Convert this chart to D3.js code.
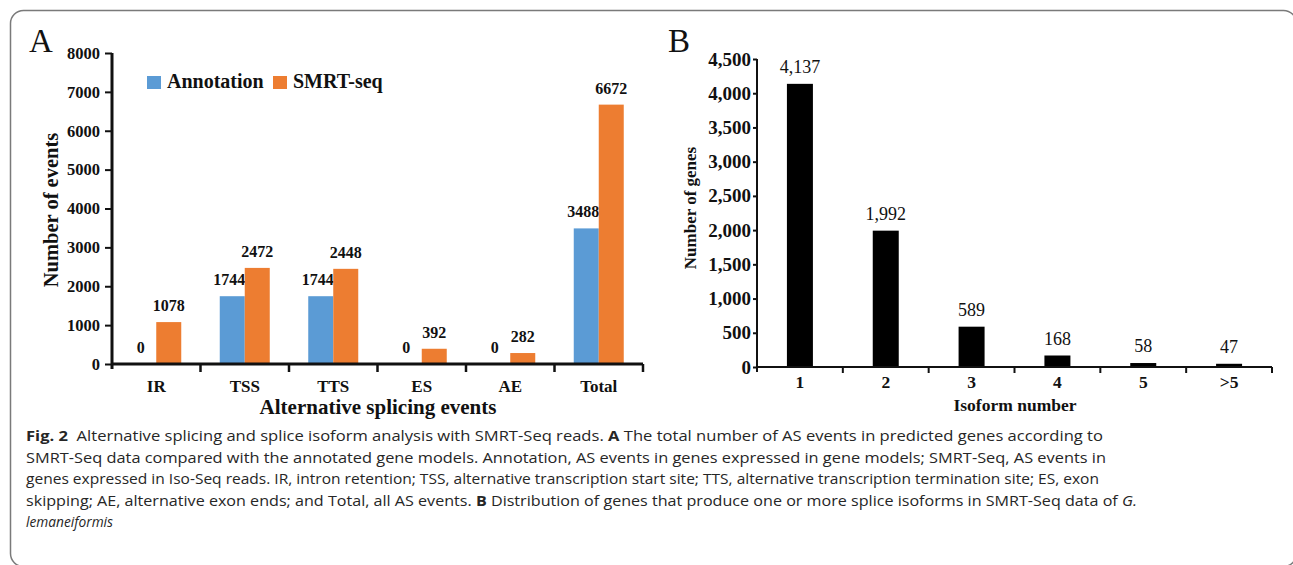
<!DOCTYPE html>
<html>
<head>
<meta charset="utf-8">
<script src="https://cdn.jsdelivr.net/npm/d3@7/dist/d3.min.js"></script>
<style>
  html, body { margin: 0; padding: 0; background: #fff; }
  svg { display: block; }
  .serif { font-family: "Liberation Serif", "Times New Roman", serif; fill: #111; }
  .cap { font-family: "Open Sans", "Noto Sans", sans-serif; fill: #262626; }
</style>
</head>
<body>
<svg id="fig" width="1293" height="565"></svg>
<script>
// Panel A: alternative splicing events
const asCategories = ["IR", "TSS", "TTS", "ES", "AE", "Total"];
const annotationCounts = [0, 1744, 1744, 0, 0, 3488];
const smrtCounts = [1078, 2472, 2448, 392, 282, 6672];
const asTicks = [0, 1000, 2000, 3000, 4000, 5000, 6000, 7000, 8000];
const seriesNames = ["Annotation", "SMRT-seq"];
const seriesColors = ["#5B9BD5", "#ED7D31"];

// Panel B: isoform number distribution
const isoformCategories = ["1", "2", "3", "4", "5", ">5"];
const geneCounts = [4137, 1992, 589, 168, 58, 47];
const geneTicks = [0, 500, 1000, 1500, 2000, 2500, 3000, 3500, 4000, 4500];

// Caption lines (segments: [text, style])
const captionLines = [
  [["Fig. 2", "b"], ["  Alternative splicing and splice isoform analysis with SMRT-Seq reads. ", ""], ["A", "b"], [" The total number of AS events in predicted genes according to", ""]],
  [["SMRT-Seq data compared with the annotated gene models. Annotation, AS events in genes expressed in gene models; SMRT-Seq, AS events in", ""]],
  [["genes expressed in Iso-Seq reads. IR, intron retention; TSS, alternative transcription start site; TTS, alternative transcription termination site; ES, exon", ""]],
  [["skipping; AE, alternative exon ends; and Total, all AS events. ", ""], ["B", "b"], [" Distribution of genes that produce one or more splice isoforms in SMRT-Seq data of ", ""], ["G.", "i"]],
  [["lemaneiformis", "i"]]
];
const captionWidths = [1077, 1080, 1073, 1111, 87];

const svg = d3.select("#fig");

// Outer frame
svg.append("rect")
  .attr("x", 10.5).attr("y", 10.5)
  .attr("width", 1286).attr("height", 556)
  .attr("rx", 13).attr("ry", 13)
  .attr("fill", "none").attr("stroke", "#7a7a7a").attr("stroke-width", 1.5);

// ---------------- Panel A ----------------
const gA = svg.append("g");
const xA = d3.scaleBand().domain(asCategories).range([112, 643]);
const yA = d3.scaleLinear().domain([0, 8000]).range([364, 53]);
const barWA = 25;

gA.append("text").attr("class", "serif")
  .attr("x", 29).attr("y", 52)
  .style("font-size", "33px").text("A");

// bars and value labels
const seriesA = [annotationCounts, smrtCounts];
seriesA.forEach((vals, si) => {
  gA.selectAll(null).data(asCategories).enter().append("rect")
    .attr("x", (c) => xA(c) + xA.bandwidth() / 2 - barWA + si * barWA)
    .attr("y", (c, i) => yA(vals[i]))
    .attr("width", barWA)
    .attr("height", (c, i) => yA(0) - yA(vals[i]))
    .attr("fill", seriesColors[si]);
  gA.selectAll(null).data(asCategories).enter().append("text")
    .attr("class", "serif")
    .attr("x", (c) => xA(c) + xA.bandwidth() / 2 - barWA / 2 + si * barWA - (si === 0 ? 3 : 0))
    .attr("y", (c, i) => yA(vals[i]) - 11)
    .attr("text-anchor", "middle")
    .style("font-size", "16px").style("font-weight", "bold")
    .text((c, i) => vals[i]);
});

// y axis
const yAxisA = gA.append("g").attr("transform", "translate(112,0)")
  .call(d3.axisLeft(yA).tickValues(asTicks).tickSize(7).tickPadding(5).tickFormat(d3.format("d")));
yAxisA.select(".domain").attr("d", `M0,${yA(8000)}V${yA(0) + 5}`).attr("stroke", "#111").attr("stroke-width", 3);
yAxisA.selectAll(".tick line").attr("stroke", "#111").attr("stroke-width", 2);
yAxisA.selectAll(".tick text").attr("fill", "#111")
  .style("font-size", "16.5px").style("font-weight", "bold").style("font-family", "Liberation Serif, serif");

// x axis
const xAxisA = gA.append("g").attr("transform", `translate(0,${yA(0)})`)
  .call(d3.axisBottom(xA).tickSize(0).tickPadding(16));
xAxisA.select(".domain").attr("d", `M112,0H${xA.range()[1]}`).attr("stroke", "#111").attr("stroke-width", 3);
xAxisA.selectAll(".tick text").attr("fill", "#111")
  .style("font-size", "17px").style("font-weight", "bold").style("font-family", "Liberation Serif, serif");
const boundsA = asCategories.slice(1).map((c) => xA(c)).concat([xA.range()[1]]);
xAxisA.selectAll(".bnd").data(boundsA).enter().append("line")
  .attr("x1", (d) => d).attr("x2", (d) => d).attr("y1", 0).attr("y2", 8)
  .attr("stroke", "#111").attr("stroke-width", 2.5);

// axis titles
gA.append("text").attr("class", "serif")
  .attr("x", 378).attr("y", 414).attr("text-anchor", "middle")
  .style("font-size", "21px").style("font-weight", "bold")
  .text("Alternative splicing events");
gA.append("text").attr("class", "serif")
  .attr("transform", "translate(58,210) rotate(-90)").attr("text-anchor", "middle")
  .style("font-size", "20.5px").style("font-weight", "bold")
  .text("Number of events");

// legend
const legendX = [147, 273];
seriesNames.forEach((name, i) => {
  gA.append("rect").attr("x", legendX[i]).attr("y", 76)
    .attr("width", 14).attr("height", 13).attr("fill", seriesColors[i]);
  gA.append("text").attr("class", "serif")
    .attr("x", legendX[i] + 20).attr("y", 88)
    .style("font-size", "20px").style("font-weight", "bold").text(name);
});

// ---------------- Panel B ----------------
const gB = svg.append("g");
const xB = d3.scaleBand().domain(isoformCategories).range([757, 1272]);
const yB = d3.scaleLinear().domain([0, 4500]).range([367, 59]);
const barWB = 26;

gB.append("text").attr("class", "serif")
  .attr("x", 668).attr("y", 52)
  .style("font-size", "33px").text("B");

gB.selectAll(null).data(isoformCategories).enter().append("rect")
  .attr("x", (c) => xB(c) + xB.bandwidth() / 2 - barWB / 2)
  .attr("y", (c, i) => yB(geneCounts[i]))
  .attr("width", barWB)
  .attr("height", (c, i) => yB(0) - yB(geneCounts[i]))
  .attr("fill", "#000");
gB.selectAll(null).data(isoformCategories).enter().append("text")
  .attr("class", "serif")
  .attr("x", (c) => xB(c) + xB.bandwidth() / 2)
  .attr("y", (c, i) => yB(geneCounts[i]) - 11)
  .attr("text-anchor", "middle")
  .style("font-size", "18px")
  .text((c, i) => d3.format(",")(geneCounts[i]));

const yAxisB = gB.append("g").attr("transform", "translate(757,0)")
  .call(d3.axisLeft(yB).tickValues(geneTicks).tickSize(4).tickPadding(2).tickFormat(d3.format(",")));
yAxisB.select(".domain").attr("d", `M0,${yB(4500)}V${yB(0) + 5}`).attr("stroke", "#111").attr("stroke-width", 2);
yAxisB.selectAll(".tick line").attr("stroke", "#111").attr("stroke-width", 2);
yAxisB.selectAll(".tick text").attr("fill", "#111")
  .style("font-size", "19px").style("font-weight", "bold").style("font-family", "Liberation Serif, serif");

const xAxisB = gB.append("g").attr("transform", `translate(0,${yB(0)})`)
  .call(d3.axisBottom(xB).tickSize(0).tickPadding(9));
xAxisB.select(".domain").attr("d", `M757,0H${xB.range()[1]}`).attr("stroke", "#111").attr("stroke-width", 2);
xAxisB.selectAll(".tick text").attr("fill", "#111")
  .style("font-size", "17.5px").style("font-weight", "bold").style("font-family", "Liberation Serif, serif");
const boundsB = isoformCategories.slice(1).map((c) => xB(c)).concat([xB.range()[1]]);
xAxisB.selectAll(".bnd").data(boundsB).enter().append("line")
  .attr("x1", (d) => d).attr("x2", (d) => d).attr("y1", 0).attr("y2", 6)
  .attr("stroke", "#111").attr("stroke-width", 2);

gB.append("text").attr("class", "serif")
  .attr("x", 1015).attr("y", 411).attr("text-anchor", "middle")
  .style("font-size", "17.5px").style("font-weight", "bold")
  .text("Isoform number");
gB.append("text").attr("class", "serif")
  .attr("transform", "translate(696,208) rotate(-90)").attr("text-anchor", "middle")
  .style("font-size", "17px").style("font-weight", "bold")
  .text("Number of genes");

// ---------------- Caption ----------------
const capBase = [441, 462.5, 484, 505.5, 527];
captionLines.forEach((segs, li) => {
  const t = svg.append("text").attr("class", "cap")
    .attr("x", 26).attr("y", capBase[li])
    .style("font-size", "15px")
    .attr("xml:space", "preserve");
  t.attr("textLength", captionWidths[li]).attr("lengthAdjust", "spacingAndGlyphs");
  segs.forEach(([txt, st]) => {
    const s = t.append("tspan").text(txt);
    if (st === "b") s.style("font-weight", "bold");
    if (st === "i") s.style("font-style", "italic");
  });
});
</script>
</body>
</html>
